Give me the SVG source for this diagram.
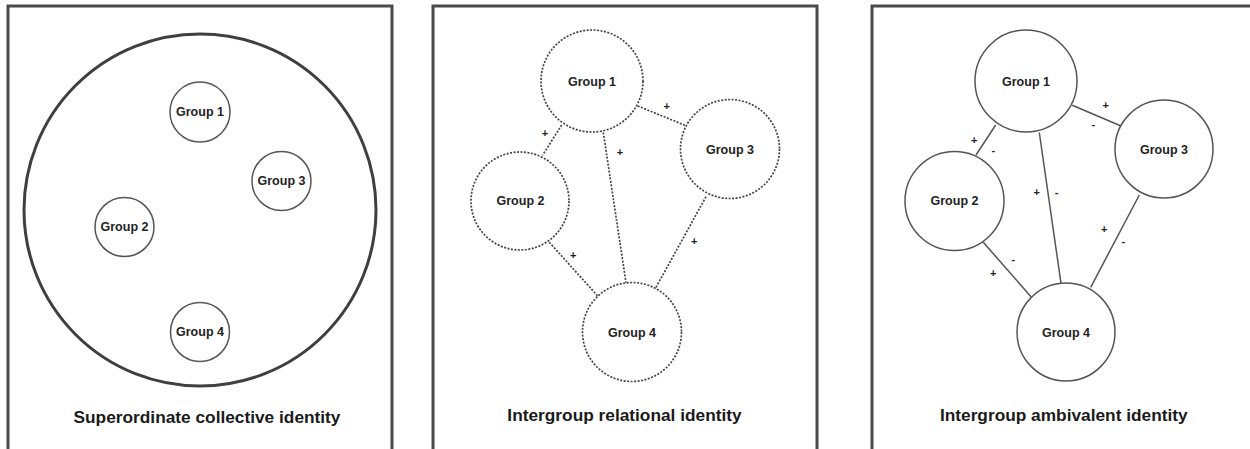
<svg xmlns="http://www.w3.org/2000/svg" width="1250" height="449" viewBox="0 0 1250 449">
<style>
.frame{fill:none;stroke:#4a4a4a;stroke-width:3}
.big{fill:none;stroke:#3f3f3f;stroke-width:3}
.g{fill:#fff;stroke:#555;stroke-width:1.5}
.gd{fill:#fff;stroke:#444;stroke-width:1.7;stroke-dasharray:2 1.5}
.ld{stroke:#444;stroke-width:1.7;stroke-dasharray:2 1.5;fill:none}
.ls{stroke:#555;stroke-width:1.5;fill:none}
.lbl{font-family:"Liberation Sans",Arial,sans-serif;font-weight:bold;font-size:12.5px;fill:#222;text-anchor:middle;dominant-baseline:central}
.title{font-family:"Liberation Sans",Arial,sans-serif;font-weight:bold;font-size:17.3px;fill:#1a1a1a;text-anchor:middle}
.sg{font-family:"Liberation Sans",Arial,sans-serif;font-weight:bold;font-size:11px;fill:#222;text-anchor:middle;dominant-baseline:central}
</style>
<rect width="1250" height="449" fill="#fff"/>
<g id="panel1">
<rect class="frame" x="8" y="6" width="384" height="460"/>
<circle class="big" cx="200" cy="210" r="176"/>
<text class="title" x="207" y="423">Superordinate collective identity</text>
</g>
<g id="p1-group1"><circle class="g" cx="200" cy="112" r="30"/><text class="lbl" x="200" y="112">Group 1</text></g>
<g id="p1-group3"><circle class="g" cx="281.5" cy="181" r="29.5"/><text class="lbl" x="281.5" y="181">Group 3</text></g>
<g id="p1-group2"><circle class="g" cx="124.5" cy="227" r="29.5"/><text class="lbl" x="124.5" y="227">Group 2</text></g>
<g id="p1-group4"><circle class="g" cx="200" cy="332" r="29.5"/><text class="lbl" x="200" y="332">Group 4</text></g>

<g id="panel2">
<rect class="frame" x="433" y="6" width="384" height="460"/>
<text class="title" x="624.5" y="421">Intergroup relational identity</text>
</g>
<g id="p2-connectors">
<line class="ld" x1="637.7" y1="106" x2="686.7" y2="126"/>
<line class="ld" x1="561.7" y1="125" x2="542.7" y2="155"/>
<line class="ld" x1="603.3" y1="132.5" x2="626" y2="282.7"/>
<line class="ld" x1="549.3" y1="242.3" x2="597.7" y2="296"/>
<line class="ld" x1="706" y1="196.7" x2="656" y2="287.3"/>
<text class="sg" x="666.7" y="106">+</text>
<text class="sg" x="545" y="133">+</text>
<text class="sg" x="620" y="152">+</text>
<text class="sg" x="573.3" y="255">+</text>
<text class="sg" x="694.3" y="240.7">+</text>
</g>
<g id="p2-group1"><circle class="gd" cx="592" cy="81" r="51"/><text class="lbl" x="592" y="82">Group 1</text></g>
<g id="p2-group3"><circle class="gd" cx="730" cy="149" r="49.5"/><text class="lbl" x="730" y="150">Group 3</text></g>
<g id="p2-group2"><circle class="gd" cx="520" cy="201" r="49"/><text class="lbl" x="520.5" y="201">Group 2</text></g>
<g id="p2-group4"><circle class="gd" cx="632" cy="332" r="49.5"/><text class="lbl" x="632" y="333">Group 4</text></g>

<g id="panel3">
<rect class="frame" x="872" y="6" width="400" height="460"/>
<text class="title" x="1063.8" y="421">Intergroup ambivalent identity</text>
</g>
<g id="p3-connectors">
<line class="ls" x1="1072.3" y1="105.3" x2="1121" y2="126"/>
<line class="ls" x1="995.7" y1="125" x2="976" y2="155"/>
<line class="ls" x1="1039.3" y1="132.5" x2="1061" y2="283.3"/>
<line class="ls" x1="983.3" y1="242.3" x2="1031" y2="296.7"/>
<line class="ls" x1="1139.3" y1="195" x2="1090.7" y2="287.3"/>
<text class="sg" x="1105.7" y="105.3">+</text>
<text class="sg" x="1093.3" y="124">-</text>
<text class="sg" x="974.3" y="140">+</text>
<text class="sg" x="993.3" y="150">-</text>
<text class="sg" x="1036.7" y="191.7">+</text>
<text class="sg" x="1056.7" y="191.7">-</text>
<text class="sg" x="993.3" y="273.3">+</text>
<text class="sg" x="1013.3" y="259">-</text>
<text class="sg" x="1104.3" y="229.3">+</text>
<text class="sg" x="1123.3" y="240.7">-</text>
</g>
<g id="p3-group1"><circle class="g" cx="1026" cy="81" r="51"/><text class="lbl" x="1026" y="82">Group 1</text></g>
<g id="p3-group3"><circle class="g" cx="1164" cy="149" r="49"/><text class="lbl" x="1164" y="150">Group 3</text></g>
<g id="p3-group2"><circle class="g" cx="954.5" cy="201" r="49.5"/><text class="lbl" x="954.5" y="201">Group 2</text></g>
<g id="p3-group4"><circle class="g" cx="1066" cy="332" r="49"/><text class="lbl" x="1066" y="333">Group 4</text></g>
</svg>
